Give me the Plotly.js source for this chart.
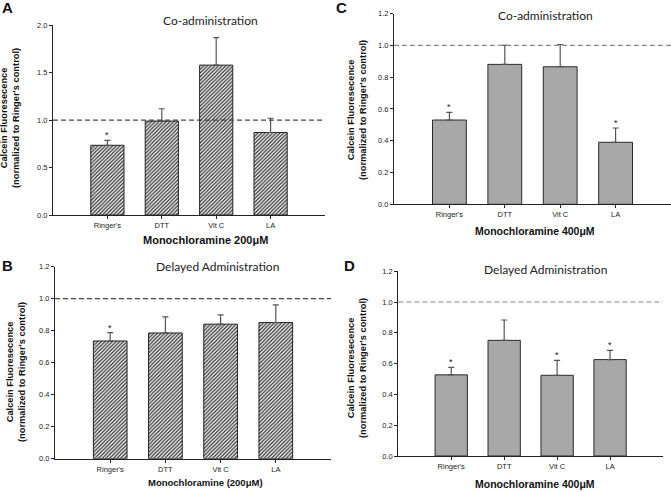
<!DOCTYPE html>
<html>
<head>
<meta charset="utf-8">
<script src="https://cdn.plot.ly/plotly-3.0.1.min.js"></script>
<style>html,body{margin:0;padding:0;background:#fff;}#chart{width:671px;height:492px;}</style>
</head>
<body>
<div id="chart"></div>
<script>
// ---- data ----
var categories = ["Ringer's", "DTT", "Vit C", "LA"];

var coAdmin200 = [0.735, 0.99, 1.58, 0.87];
var coAdmin200Err = [0.052, 0.13, 0.29, 0.15];
var coAdmin200Star = [true, false, false, false];

var coAdmin400 = [0.53, 0.88, 0.865, 0.39];
var coAdmin400Err = [0.048, 0.12, 0.14, 0.09];
var coAdmin400Star = [true, false, false, true];

var delayed200 = [0.735, 0.785, 0.84, 0.85];
var delayed200Err = [0.052, 0.10, 0.058, 0.11];
var delayed200Star = [true, false, false, false];

var delayed400 = [0.527, 0.751, 0.524, 0.626];
var delayed400Err = [0.049, 0.132, 0.097, 0.06];
var delayed400Star = [true, false, true, true];

var panelLetters = ["A", "B", "C", "D"];
var panelTitles = ["Co-administration", "Delayed Administration", "Co-administration", "Delayed Administration"];
var xTitles = ["Monochloramine 200\u03bcM", "Monochloramine (200\u03bcM)", "Monochloramine 400\u03bcM", "Monochloramine 400\u03bcM"];
var yTitle = "Calcein Fluoresecence<br>(normalized to Ringer's control)";

// ---- layout helpers ----
var W = 671, H = 492;
function px(x) { return x / W; }
function py(y) { return 1 - y / H; }

var ARIAL = "Liberation Sans, Arial, sans-serif";
var CAL = "Lato, Open Sans, sans-serif";

var panels = [
  {vals: coAdmin200, err: coAdmin200Err, star: coAdmin200Star, hatch: true,
   x0: 53, x1: 325, yTop: 25.3, yBot: 215, range: [0, 2], dtick: 0.5, ref: 1.0,
   letter: [7, 8], title: [210, 20], xt: [205, 240], xtSize: 11, yt: [10, 118]},
  {vals: delayed200, err: delayed200Err, star: delayed200Star, hatch: true,
   x0: 55, x1: 331, yTop: 266.5, yBot: 458.7, range: [0, 1.2], dtick: 0.2, ref: 1.0,
   letter: [7, 265], title: [217, 266], xt: [205, 482.5], xtSize: 9.5, yt: [16, 372]},
  {vals: coAdmin400, err: coAdmin400Err, star: coAdmin400Star, hatch: false,
   x0: 394, x1: 671, yTop: 13.5, yBot: 204.3, range: [0, 1.2], dtick: 0.2, ref: 1.0,
   letter: [341, 8], title: [545, 16], xt: [535, 231], xtSize: 10.5, yt: [357, 110]},
  {vals: delayed400, err: delayed400Err, star: delayed400Star, hatch: false,
   x0: 398.3, x1: 663, yTop: 271.2, yBot: 456, range: [0, 1.2], dtick: 0.2, ref: 1.0,
   letter: [349, 265], title: [545, 269], xt: [535, 484], xtSize: 10.5, yt: [357, 368]}
];

var data = [];
var layout = {
  width: W, height: H,
  margin: {l: 0, r: 0, t: 0, b: 0},
  paper_bgcolor: "#fff", plot_bgcolor: "rgba(0,0,0,0)",
  showlegend: false,
  font: {family: ARIAL, color: "#222"},
  annotations: [], shapes: []
};

panels.forEach(function (p, i) {
  var n = i + 1;
  var xa = n === 1 ? "x" : "x" + n;
  var ya = n === 1 ? "y" : "y" + n;
  var marker = p.hatch ?
    {color: "#ffffff", line: {color: "#222", width: 1},
     pattern: {shape: "/", fgcolor: "#333333", bgcolor: "#ffffff", size: 2.6, solidity: 0.5}} :
    {color: "#a8a8a8", line: {color: "#2a2a2a", width: 1}};
  data.push({
    type: "bar", x: categories, y: p.vals, xaxis: xa, yaxis: ya,
    width: 0.61, marker: marker,
    error_y: {type: "data", symmetric: false, array: p.err,
              arrayminus: p.vals.map(function () { return 0; }),
              color: "#555", thickness: 1.2, width: 3},
    hoverinfo: "skip"
  });
  var axx = {
    domain: [px(p.x0), px(p.x1)], anchor: ya,
    type: "category", range: [-1, 4],
    showline: true, linecolor: "#222", linewidth: 1,
    ticks: "outside", ticklen: 3, tickcolor: "#222",
    showgrid: false, zeroline: false,
    tickfont: {family: ARIAL, size: 7.5, color: "#222"}
  };
  var axy = {
    domain: [py(p.yBot), py(p.yTop)], anchor: xa,
    range: p.range, dtick: p.dtick, tick0: 0, tickformat: ".1f",
    showline: true, linecolor: "#222", linewidth: 1,
    ticks: "outside", ticklen: 3, tickcolor: "#222",
    showgrid: false, zeroline: false,
    tickfont: {family: ARIAL, size: 7.5, color: "#222"}
  };
  layout[n === 1 ? "xaxis" : "xaxis" + n] = axx;
  layout[n === 1 ? "yaxis" : "yaxis" + n] = axy;

  layout.shapes.push({
    type: "line", xref: xa + " domain", yref: ya,
    x0: 0, x1: 1, y0: p.ref, y1: p.ref,
    line: {color: p.hatch ? "#444" : "#888", width: 1.2, dash: "5px,3px"}
  });

  p.star.forEach(function (s, k) {
    if (!s) return;
    layout.annotations.push({
      xref: xa, yref: ya, x: categories[k], y: p.vals[k] + p.err[k],
      text: "*", showarrow: false, yanchor: "bottom", yshift: -2,
      font: {family: ARIAL, size: 9, color: "#111"}
    });
  });

  layout.annotations.push({
    xref: "paper", yref: "paper", x: px(p.letter[0]), y: py(p.letter[1]),
    text: "<b>" + panelLetters[i] + "</b>", showarrow: false,
    xanchor: "center", yanchor: "middle",
    font: {family: ARIAL, size: 15, color: "#111"}
  });
  layout.annotations.push({
    xref: "paper", yref: "paper", x: px(p.title[0]), y: py(p.title[1]),
    text: panelTitles[i], showarrow: false, xanchor: "center", yanchor: "middle",
    font: {family: CAL, size: 12, color: "#222"}
  });
  layout.annotations.push({
    xref: "paper", yref: "paper", x: px(p.xt[0]), y: py(p.xt[1]),
    text: "<b>" + xTitles[i] + "</b>", showarrow: false, xanchor: "center", yanchor: "middle",
    font: {family: ARIAL, size: p.xtSize, color: "#111"}
  });
  layout.annotations.push({
    xref: "paper", yref: "paper", x: px(p.yt[0]), y: py(p.yt[1]),
    text: "<b>" + yTitle + "</b>", showarrow: false, textangle: -90,
    xanchor: "center", yanchor: "middle",
    font: {family: ARIAL, size: 9.3, color: "#111"}
  });
});

Plotly.newPlot("chart", data, layout, {staticPlot: true, displayModeBar: false});
</script>
</body>
</html>
